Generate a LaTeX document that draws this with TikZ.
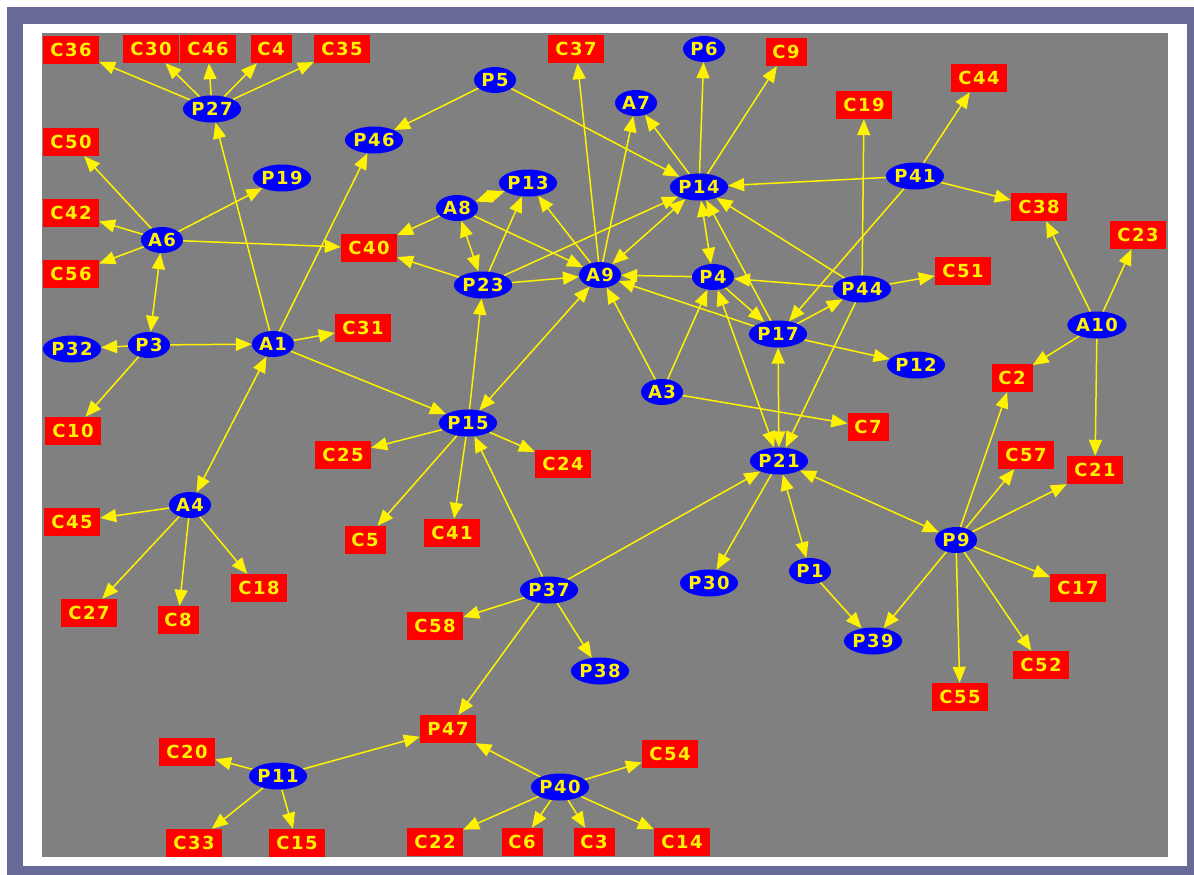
\documentclass[tikz,border=0pt]{standalone}
\usepackage{fontspec}
\usetikzlibrary{shapes.geometric,arrows.meta}
\newfontfamily\lab{DejaVu Sans}[LetterSpace=8]
\definecolor{frame}{RGB}{104,106,152}
\definecolor{bg}{RGB}{128,128,128}
\pgfdeclarelayer{back}
\pgfdeclarelayer{edges}
\pgfsetlayers{back,edges,main}
\begin{document}
\begin{tikzpicture}[x=1pt,y=-1pt,
  lbl/.style={text=yellow,font=\lab\bfseries\fontsize{18}{18}\selectfont,inner sep=0pt},
  pn/.style={lbl,ellipse,fill=blue,minimum width=56pt,minimum height=27pt},
  pns/.style={pn,minimum width=42pt,minimum height=26pt},
  cn/.style={lbl,rectangle,fill=red,minimum width=56pt,minimum height=28pt},
  cns/.style={cn,minimum width=41pt},
  e/.style={draw=yellow,line width=1.5pt,-{Triangle[length=16pt,width=13pt]}},
  bi/.style={draw=yellow,line width=1.5pt,{Triangle[length=16pt,width=13pt]}-{Triangle[length=16pt,width=13pt]}}]
\useasboundingbox (0,0) rectangle (1194,875);
\begin{pgfonlayer}{back}
\fill[white] (0,0) rectangle (1194,875);
\fill[frame] (7,7) rectangle (1194,875);
\fill[white] (23,24) rectangle (1187,866);
\fill[bg] (42,33) rectangle (1168,857);
\end{pgfonlayer}
% nodes
\node[cn] (C36) at (71,50) {C36};
\node[cn] (C30) at (151,49) {C30};
\node[cn] (C46) at (208,49) {C46};
\node[cns] (C4) at (271,49) {C4};
\node[cn] (C35) at (342,49) {C35};
\node[pn] (P27) at (212,109) {P27};
\node[cn] (C50) at (71,142) {C50};
\node[pn] (P46) at (374,140) {P46};
\node[pn] (P19) at (282,178) {P19};
\node[cn] (C42) at (71,213) {C42};
\node[pns] (A6) at (162,240) {A6};
\node[cn] (C40) at (369,248) {C40};
\node[cn] (C56) at (71,274) {C56};
\node[cn] (C37) at (576,49) {C37};
\node[pns] (P6) at (704,49) {P6};
\node[cns] (C9) at (786,52) {C9};
\node[pns] (P5) at (495,80) {P5};
\node[pns] (A7) at (636,103) {A7};
\node[pn] (P13) at (528,183) {P13};
\node[pn] (P14) at (699,187) {P14};
\node[pns] (A8) at (457,208) {A8};
\node[pn] (P23) at (483,285) {P23};
\node[pns] (A9) at (600,275) {A9};
\node[pns] (P4) at (713,277) {P4};
\node[cn] (C19) at (864,105) {C19};
\node[cn] (C44) at (979,78) {C44};
\node[pn] (P41) at (915,176) {P41};
\node[cn] (C38) at (1039,207) {C38};
\node[cn] (C23) at (1138,235) {C23};
\node[cn] (C51) at (963,271) {C51};
\node[pn] (P44) at (862,289) {P44};
\node[pn] (P32) at (72,349) {P32};
\node[pns] (P3) at (149,345) {P3};
\node[pns] (A1) at (273,344) {A1};
\node[cn] (C31) at (363,328) {C31};
\node[cn] (C10) at (73,431) {C10};
\node[cn] (C25) at (343,455) {C25};
\node[pns] (A4) at (190,505) {A4};
\node[cn] (C45) at (72,522) {C45};
\node[cns] (C5) at (365,540) {C5};
\node[cn] (C18) at (259,588) {C18};
\node[pn] (P15) at (468,423) {P15};
\node[cn] (C24) at (563,464) {C24};
\node[cn] (C41) at (452,533) {C41};
\node[pns] (A3) at (662,392) {A3};
\node[pn] (P17) at (778,334) {P17};
\node[pn] (P21) at (779,461) {P21};
\node[pn] (A10) at (1097,325) {A10};
\node[pn] (P12) at (916,365) {P12};
\node[cns] (C2) at (1012,378) {C2};
\node[cns] (C7) at (868,427) {C7};
\node[cn] (C57) at (1026,455) {C57};
\node[cn] (C21) at (1095,470) {C21};
\node[pns] (P9) at (956,540) {P9};
\node[cn] (C17) at (1078,588) {C17};
\node[pns] (P1) at (810,571) {P1};
\node[pn] (P39) at (873,641) {P39};
\node[cn] (C55) at (960,697) {C55};
\node[cn] (C52) at (1041,665) {C52};
\node[pn] (P37) at (549,590) {P37};
\node[pn] (P30) at (709,583) {P30};
\node[cn] (C58) at (435,626) {C58};
\node[pn] (P38) at (600,671) {P38};
\node[cn] (P47) at (448,729) {P47};
\node[cn] (C54) at (670,754) {C54};
\node[pn] (P40) at (560,787) {P40};
\node[cn] (C22) at (435,842) {C22};
\node[cns] (C6) at (522,842) {C6};
\node[cns] (C3) at (594,842) {C3};
\node[cn] (C14) at (682,842) {C14};
\node[cn] (C27) at (89,613) {C27};
\node[cns] (C8) at (178,620) {C8};
\node[cn] (C20) at (187,752) {C20};
\node[pn] (P11) at (278,776) {P11};
\node[cn] (C33) at (194,843) {C33};
\node[cn] (C15) at (297,843) {C15};
% edges
\begin{pgfonlayer}{edges}
\foreach \a/\b in {P27/C36,P27/C30,P27/C46,P27/C4,P27/C35,A1/P27,A1/P46,P5/P46,P5/P14,
  A6/C50,A6/C42,A6/C56,A6/P19,A6/C40,P3/P32,P3/A1,P3/C10,A1/C31,A1/P15,
  A4/C45,A4/C27,A4/C8,A4/C18,P15/C25,P15/C5,P15/C41,P15/C24,P15/P23,
  P37/P15,P37/P21,P37/C58,P37/P38,P37/P47,P40/P47,P40/C54,P40/C22,P40/C6,P40/C3,P40/C14,
  P11/C20,P11/C33,P11/C15,P11/P47,P23/C40,A8/C40,A8/A9,P23/P13,P23/A9,P23/P14,
  A9/P13,A9/C37,A9/A7,P14/A7,P14/P6,P14/C9,P41/P14,P44/P14,P17/P14,P44/P21,
  P4/P17,P4/A9,P44/P4,P17/A9,P17/P44,P41/P17,P17/P12,A3/A9,A3/P4,A3/C7,
  P44/C19,P44/C51,P41/C44,P41/C38,A10/C38,A10/C23,A10/C2,A10/C21,
  P9/C2,P9/C57,P9/C21,P9/C17,P9/C52,P9/C55,P9/P39,P1/P39,P21/P30}
  {\draw[e] (\a) -- (\b);}
\foreach \a/\b in {A6/P3,A1/A4,A9/P15,A8/P23,A8/P13,A9/P14,P14/P4,P4/P21,P17/P21,P9/P21,P1/P21}
  {\draw[bi] (\a) -- (\b);}
\end{pgfonlayer}
\end{tikzpicture}
\end{document}
